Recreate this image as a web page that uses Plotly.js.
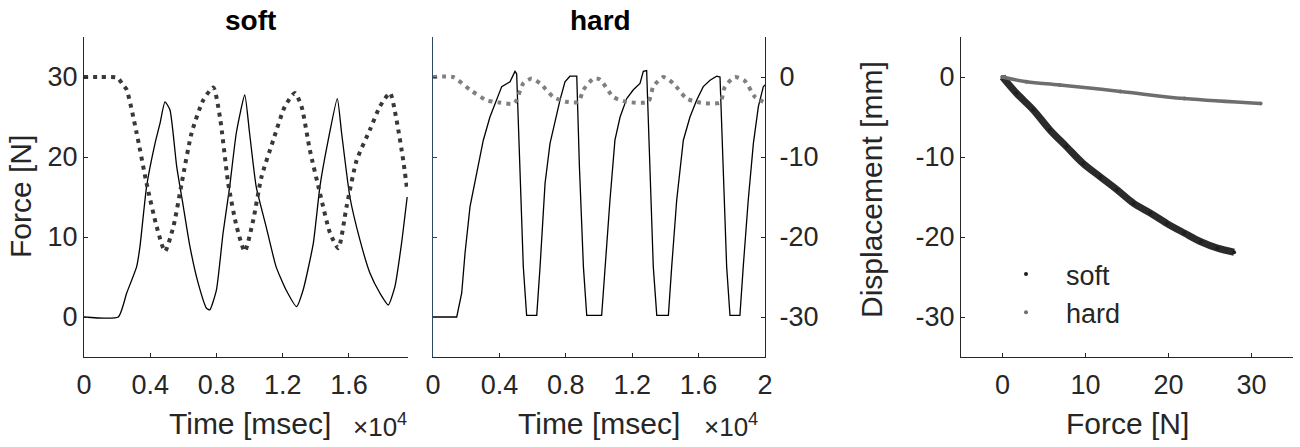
<!DOCTYPE html>
<html>
<head>
<meta charset="utf-8">
<script src="https://cdn.plot.ly/plotly-3.0.1.min.js"></script>
<style>html,body{margin:0;padding:0;background:#fff;}#chart{width:1300px;height:447px;}</style>
</head>
<body>
<div id="chart"></div>
<script>
// ---------- data (time in units of 10^4 msec) ----------
const softForceT = [0, 0.207, 0.258, 0.318, 0.338, 0.378, 0.429, 0.459, 0.489, 0.519, 0.56, 0.6, 0.64, 0.69, 0.74, 0.76, 0.8, 0.84, 0.88, 0.92, 0.971, 1.0, 1.04, 1.1, 1.16, 1.22, 1.284, 1.324, 1.385, 1.425, 1.475, 1.53, 1.556, 1.606, 1.667, 1.727, 1.787, 1.838, 1.878, 1.918, 1.952];
const softForce  = [0, 0, 3, 6.3, 8.8, 16.3, 21.7, 24.2, 26.9, 25.9, 18.8, 13.8, 8.8, 4.2, 1.1, 0.9, 3.4, 10.5, 16.3, 23, 27.75, 23, 16.3, 11.3, 6.3, 3.4, 1.3, 3.4, 9.2, 16.3, 22.1, 27.3, 23, 15, 9.6, 5.5, 3, 1.5, 3.8, 9.2, 15];

const softDispT = [0, 0.1, 0.2, 0.24, 0.258, 0.318, 0.378, 0.439, 0.489, 0.54, 0.59, 0.65, 0.72, 0.781, 0.821, 0.871, 0.922, 0.971, 1.022, 1.072, 1.143, 1.213, 1.274, 1.314, 1.364, 1.425, 1.486, 1.536, 1.586, 1.647, 1.727, 1.787, 1.848, 1.888, 1.928, 1.952];
const softDisp  = [0, 0, -0.1, -1.1, -1.6, -7, -13.3, -18.7, -21.8, -18.7, -13.3, -7, -2.9, -1.3, -5, -13.3, -18.7, -21.8, -17.9, -12.5, -7.9, -3.7, -2, -3.7, -9.1, -14.5, -19.5, -21.4, -16.2, -10.4, -6.6, -3.7, -2, -5.4, -10.4, -14.1];

const hardForceT = [0, 0.143, 0.173, 0.193, 0.223, 0.243, 0.273, 0.303, 0.343, 0.384, 0.414, 0.464, 0.494, 0.504, 0.524, 0.544, 0.564, 0.625, 0.645, 0.675, 0.705, 0.735, 0.765, 0.795, 0.825, 0.866, 0.882, 0.906, 0.926, 1.016, 1.036, 1.066, 1.096, 1.127, 1.167, 1.207, 1.247, 1.267, 1.287, 1.307, 1.327, 1.348, 1.418, 1.438, 1.468, 1.508, 1.548, 1.588, 1.628, 1.669, 1.709, 1.729, 1.749, 1.769, 1.789, 1.849, 1.869, 1.899, 1.93, 1.96, 1.99, 2.0];
const hardForce  = [0, 0, 3, 8, 13.8, 15.9, 18.8, 22.1, 25, 27.1, 28.8, 29.4, 30.7, 30.4, 18.8, 6.3, 0.2, 0.2, 6.3, 16.7, 21.7, 24.6, 27.1, 29.4, 30.1, 30.1, 18.8, 6.3, 0.2, 0.2, 6.3, 14.6, 22.1, 25, 27.3, 28.4, 29.2, 30.7, 30.8, 18.8, 6.3, 0.2, 0.2, 6.3, 14.6, 22.1, 25, 27.1, 28.8, 29.6, 30.1, 30, 18.8, 6.3, 0.2, 0.2, 6.3, 14.6, 21.7, 26.3, 28.8, 29];

const hardDispT = [0, 0.12, 0.223, 0.323, 0.4, 0.49, 0.544, 0.594, 0.645, 0.725, 0.805, 0.876, 0.906, 0.966, 1.006, 1.086, 1.167, 1.297, 1.327, 1.388, 1.448, 1.528, 1.608, 1.729, 1.759, 1.819, 1.879, 1.94, 1.99];
const hardDisp  = [0, 0, -1.6, -2.9, -3.2, -3.3, -0.8, -0.2, -0.8, -2.5, -3.1, -3.1, -1.6, -0.2, -0.3, -2.5, -3.1, -3.1, -1.2, 0, -0.8, -2.7, -3.2, -3.2, -1.2, 0, -0.5, -2.5, -3.1];

// force-displacement relation
const softRelForce = [0, 1.66, 3.7, 5.7, 7.7, 9.7, 11.8, 13.8, 15.8, 17.8, 19.8, 21.9, 23.9, 25.9, 27.9];
const softRelDisp  = [0, -2, -4.1, -6.6, -8.7, -10.8, -12.5, -14.1, -15.8, -17, -18.3, -19.5, -20.6, -21.4, -21.9];
const hardRelForce = [0, 2.9, 6.9, 14.2, 21.9, 31.1];
const hardRelDisp  = [0, -0.6, -1.0, -1.8, -2.7, -3.3];

// ticks
const timeTicksSoft = [0, 0.4, 0.8, 1.2, 1.6];
const timeTextSoft  = ['0', '0.4', '0.8', '1.2', '1.6'];
const timeTicksHard = [0, 0.4, 0.8, 1.2, 1.6, 2];
const timeTextHard  = ['0', '0.4', '0.8', '1.2', '1.6', '2'];
const forceTicks = [0, 10, 20, 30];
const forceText  = ['0', '10', '20', '30'];
const dispTicks  = [0, -10, -20, -30];
const dispText   = ['0', '-10', '-20', '-30'];

// ---------- layout helpers ----------
const W = 1300, H = 447;
const fx = p => p / W;
const fy = p => 1 - p / H;
const AX = '#262626';
const FAM = 'Liberation Sans, Arial, sans-serif';
const TF = {family: FAM, size: 27, color: AX};

function axisBase(extra) {
  return Object.assign({
    showline: true, linecolor: AX, linewidth: 1,
    ticks: 'inside', ticklen: 4, tickcolor: AX, tickwidth: 1,
    showgrid: false, zeroline: false, tickfont: TF, fixedrange: true
  }, extra);
}

const yDom = [fy(357), fy(37)];

const traces = [
  {x: softForceT, y: softForce, xaxis: 'x', yaxis: 'y', mode: 'lines',
   line: {color: '#000', width: 1.3, shape: 'spline', smoothing: 0.5}, showlegend: false, hoverinfo: 'skip'},
  {x: softDispT, y: softDisp, xaxis: 'x', yaxis: 'y2', mode: 'lines',
   line: {color: '#383838', width: 4, dash: '4px,5px', shape: 'spline', smoothing: 0.6}, showlegend: false, hoverinfo: 'skip'},
  {x: hardForceT, y: hardForce, xaxis: 'x2', yaxis: 'y3', mode: 'lines',
   line: {color: '#000', width: 1.3}, showlegend: false, hoverinfo: 'skip'},
  {x: hardDispT, y: hardDisp, xaxis: 'x2', yaxis: 'y4', mode: 'lines',
   line: {color: '#808080', width: 4, dash: '4px,5px', shape: 'spline', smoothing: 0.6}, showlegend: false, hoverinfo: 'skip'},
  {x: softRelForce, y: softRelDisp, xaxis: 'x3', yaxis: 'y5', mode: 'lines',
   line: {color: '#2b2b2b', width: 7, shape: 'spline'}, showlegend: false, legendgroup: 'soft', hoverinfo: 'skip'},
  {x: softRelForce, y: softRelDisp, xaxis: 'x3', yaxis: 'y5', mode: 'markers', name: 'soft',
   marker: {color: '#1e1e1e', size: 4}, legendgroup: 'soft', hoverinfo: 'skip'},
  {x: hardRelForce, y: hardRelDisp, xaxis: 'x3', yaxis: 'y5', mode: 'lines',
   line: {color: '#6e6e6e', width: 3.5, shape: 'spline'}, showlegend: false, legendgroup: 'hard', hoverinfo: 'skip'},
  {x: hardRelForce, y: hardRelDisp, xaxis: 'x3', yaxis: 'y5', mode: 'markers', name: 'hard',
   marker: {color: '#6e6e6e', size: 4}, legendgroup: 'hard', hoverinfo: 'skip'}
];

const ann = (text, x, y, opts) => Object.assign({
  text: text, x: fx(x), y: fy(y), xref: 'paper', yref: 'paper',
  xanchor: 'center', yanchor: 'middle', showarrow: false,
  font: {family: FAM, size: 30, color: AX}
}, opts || {});

const layout = {
  width: W, height: H,
  margin: {l: 0, r: 0, t: 0, b: 0},
  paper_bgcolor: '#fff', plot_bgcolor: 'rgba(0,0,0,0)',
  font: {family: FAM, color: AX},
  showlegend: true,
  legend: {x: fx(986), y: fy(250), xanchor: 'left', yanchor: 'top',
           font: {family: FAM, size: 27, color: AX},
           bgcolor: 'rgba(0,0,0,0)', itemwidth: 70, tracegroupgap: 0},
  xaxis: axisBase({domain: [fx(84), fx(408)], anchor: 'y', range: [0, 1.957], ticklabelstandoff: 4,
                   tickmode: 'array', tickvals: timeTicksSoft, ticktext: timeTextSoft}),
  yaxis: axisBase({domain: yDom, anchor: 'x', range: [-5, 35],
                   tickmode: 'array', tickvals: forceTicks, ticktext: forceText}),
  yaxis2: {overlaying: 'y', anchor: 'x', range: [-35, 5], visible: false, fixedrange: true},
  xaxis2: axisBase({domain: [fx(433), fx(765)], anchor: 'y3', range: [0, 2], ticklabelstandoff: 4,
                    tickmode: 'array', tickvals: timeTicksHard, ticktext: timeTextHard}),
  yaxis3: axisBase({domain: yDom, anchor: 'x2', range: [-5, 35], linecolor: '#2c4766',
                    tickcolor: '#2c4766', tickmode: 'array', tickvals: forceTicks, showticklabels: false}),
  yaxis4: axisBase({overlaying: 'y3', side: 'right', anchor: 'x2', range: [-35, 5], ticklabelstandoff: 8,
                    tickmode: 'array', tickvals: dispTicks, ticktext: dispText}),
  xaxis3: axisBase({domain: [fx(961), fx(1293)], anchor: 'y5', range: [-5, 35], ticklabelstandoff: 4,
                    tickmode: 'array', tickvals: forceTicks, ticktext: forceText}),
  yaxis5: axisBase({domain: yDom, anchor: 'x3', range: [-35, 5],
                    tickmode: 'array', tickvals: dispTicks, ticktext: dispText}),
  annotations: [
    ann('<b>soft</b>', 250, 20, {font: {family: FAM, size: 28, color: '#000'}}),
    ann('<b>hard</b>', 600, 20, {font: {family: FAM, size: 28, color: '#000'}}),
    ann('Force [N]', 20, 197, {textangle: -90}),
    ann('Time [msec]', 250, 423),
    ann('Time [msec]', 599, 423),
    ann('×10<sup>4</sup>', 351, 425, {xanchor: 'left', font: {family: FAM, size: 26, color: AX}}),
    ann('×10<sup>4</sup>', 702, 425, {xanchor: 'left', font: {family: FAM, size: 26, color: AX}}),
    ann('Displacement [mm]', 871, 190, {textangle: -90}),
    ann('Force [N]', 1127, 423)
  ]
};

Plotly.newPlot('chart', traces, layout, {staticPlot: true, displayModeBar: false});
</script>
</body>
</html>
